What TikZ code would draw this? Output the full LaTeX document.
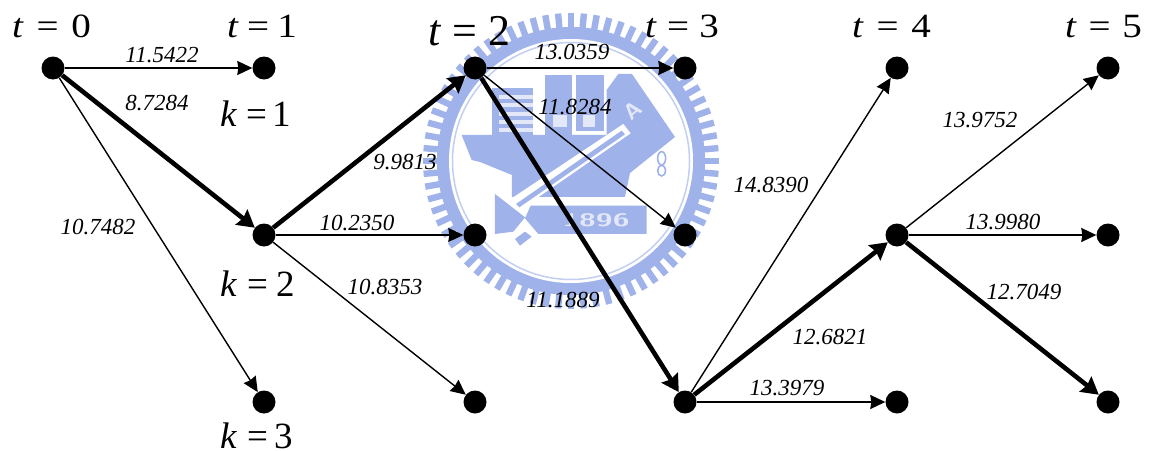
\documentclass[tikz,border=0pt]{standalone}
\usepackage{fontspec}
\setmainfont{Liberation Serif}
\usetikzlibrary{arrows.meta}
\definecolor{wm}{HTML}{A0B2EA}
\definecolor{wmpale}{HTML}{E2E8F8}
\definecolor{wmline}{HTML}{C3CFF1}
\newcommand{\stagetext}[2]{\scalebox{1.15}[1]{\textit{t}\hspace{#1pt}=\hspace{#1pt}#2}}
\tikzset{
  vertex/.style={circle,fill=black,inner sep=0pt,minimum size=23pt},
  thinedge/.style={draw=black,line width=1.4pt,-{Stealth[length=15pt,width=14pt,inset=1pt]}},
  boldedge/.style={draw=black,line width=4.6pt,-{Stealth[length=17pt,width=19pt,inset=2pt]}},
  weight/.style={font=\fontsize{23}{23}\selectfont\itshape,inner sep=0pt},
  tlabel/.style={font=\fontsize{34}{34}\selectfont,inner sep=0pt,anchor=base west},
  tbig/.style={font=\fontsize{44}{44}\selectfont,inner sep=0pt,anchor=base west},
  klabel/.style={font=\fontsize{37}{37}\selectfont,inner sep=0pt,anchor=base west},
  logoletter/.style={text=wmpale,inner sep=0pt,font=\fontsize{22}{22}\selectfont\sffamily\bfseries},
}
\begin{document}
\begin{tikzpicture}[x=1pt,y=-1pt]
\useasboundingbox (0,0) rectangle (1149,450);
% watermark
\begin{scope}[shift={(571,161)}]
  \foreach \a in {0,5,...,355} \fill[wm] (\a:131) ++(\a+90:3.2) -- ++(\a:17) -- ++(\a-90:6.4) -- ++(\a+180:17) -- cycle;
  \fill[wm] (0,0) circle (134);
  \fill[white] (0,0) circle (122);
  \draw[wmline,line width=1.5pt] (0,0) circle (118.5);
\end{scope}
\begin{scope}[shift={(410,0)},x=0.3333pt,y=-0.3333pt]
  % buildings
  \fill[wm] (245,265) rectangle (370,405);
  \foreach \yy in {285,310,335,360,385} \fill[wmpale] (268,\yy) rectangle (368,\yy+12);
  \fill[wm] (405,225) rectangle (487,405);
  \fill[wm] (497,225) rectangle (582,392);
  % anvil body and book
  \fill[wm] (155,405) -- (590,405) -- (590,270) -- (625,222) -- (666,222) -- (795,411) -- (660,519) -- (645,591) -- (306,591) -- (306,525) -- (210,486) -- (185,480) -- cycle;
  \fill[wmpale] (430,345) rectangle (470,380);
  \fill[wmpale] (520,345) rectangle (555,380);
  \node[logoletter,rotate=40] (letterA) at (668,330) {A};
  % sword
  \fill[white] (290,605) -- (640,372) -- (662,400) -- (315,640) -- cycle;
  \fill[wm] (318,612) -- (635,392) -- (645,403) -- (328,622) -- cycle;
  \fill[wm] (255,582) -- (285,605) -- (345,652) -- (310,695) -- (255,702) -- cycle;
  \fill[wm] (345,695) -- (365,710) -- (330,737) -- (315,717) -- cycle;
  % plate
  \fill[wm] (362,617) -- (710,617) -- (710,702) -- (385,702) -- (345,655) -- cycle;
  \node[text=wmpale,font=\fontsize{18}{18}\selectfont\sffamily\bfseries,inner sep=0pt] (year) at (558,660) {\scalebox{1.7}[1]{1896}};
  % seal
  \draw[wm,line width=1.6pt] (755,475) circle (12 and 20);
  \draw[wm,line width=1.6pt] (755,512) circle (12 and 16);
\end{scope}
% vertices
\node[vertex] (a) at (53,68) {};
\node[vertex] (b1) at (264,68) {};
\node[vertex] (b2) at (264,235) {};
\node[vertex] (b3) at (264,402) {};
\node[vertex] (c1) at (475,68) {};
\node[vertex] (c2) at (475,235) {};
\node[vertex] (c3) at (475,402) {};
\node[vertex] (d1) at (685,68) {};
\node[vertex] (d2) at (685,235) {};
\node[vertex] (d3) at (685,402) {};
\node[vertex] (e1) at (897,68) {};
\node[vertex] (e2) at (897,235) {};
\node[vertex] (e3) at (897,402) {};
\node[vertex] (f1) at (1108,68) {};
\node[vertex] (f2) at (1108,235) {};
\node[vertex] (f3) at (1108,402) {};
% edges
\draw[thinedge] (a) -- (b1);
\draw[boldedge] (a) -- (b2);
\draw[thinedge] (a) -- (b3);
\draw[boldedge] (b2) -- (c1);
\draw[thinedge] (b2) -- (c2);
\draw[thinedge] (b2) -- (c3);
\draw[thinedge] (c1) -- (d1);
\draw[thinedge] (c1) -- (d2);
\draw[boldedge] (c1) -- (d3);
\draw[thinedge] (d3) -- (e1);
\draw[boldedge] (d3) -- (e2);
\draw[thinedge] (d3) -- (e3);
\draw[thinedge] (e2) -- (f1);
\draw[thinedge] (e2) -- (f2);
\draw[boldedge] (e2) -- (f3);
% weights
\node[weight] (w1) at (162,55) {11.5422};
\node[weight] (w2) at (157,103) {8.7284};
\node[weight] (w3) at (98,227) {10.7482};
\node[weight] (w4) at (405,162) {9.9813};
\node[weight] (w5) at (357,223) {10.2350};
\node[weight] (w6) at (385,287) {10.8353};
\node[weight] (w7) at (572,52) {13.0359};
\node[weight] (w8) at (575,107) {11.8284};
\node[weight] (w9) at (563,300) {11.1889};
\node[weight] (w10) at (771,185) {14.8390};
\node[weight] (w11) at (830,337) {12.6821};
\node[weight] (w12) at (787,388) {13.3979};
\node[weight] (w13) at (980,120) {13.9752};
\node[weight] (w14) at (1003,222) {13.9980};
\node[weight] (w15) at (1024,292) {12.7049};
% stage labels
\node[tlabel] (t0) at (12,37) {\stagetext{11.1}{0}};
\node[tlabel] (t1) at (227,37) {\stagetext{7.2}{1}};
\node[tbig] (t2) at (428,45) {\textit{t}\hspace{11pt}=\hspace{11pt}2};
\node[tlabel] (t3) at (645,37) {\stagetext{8.9}{3}};
\node[tlabel] (t4) at (852,37) {\stagetext{11.1}{4}};
\node[tlabel] (t5) at (1065,37) {\stagetext{10.2}{5}};
\node[klabel] (k1) at (220,126) {\textit{k}\hspace{9pt}=\hspace{5pt}1};
\node[klabel] (k2) at (220,296) {\textit{k}\hspace{10pt}=\hspace{8pt}2};
\node[klabel] (k3) at (220,448) {\textit{k}\hspace{10pt}=\hspace{6pt}3};
\end{tikzpicture}
\end{document}
